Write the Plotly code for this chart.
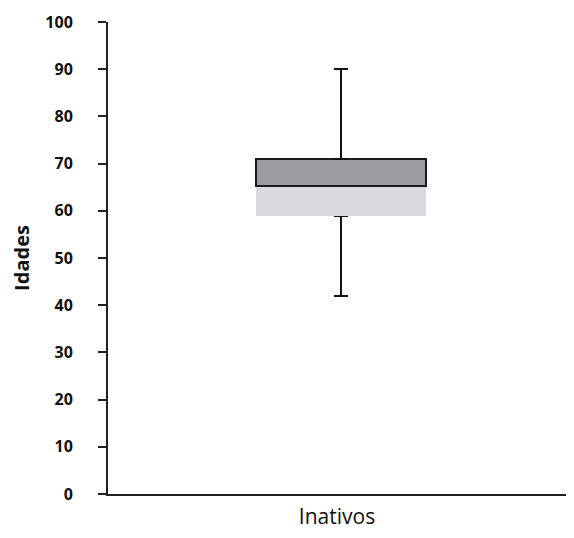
import plotly.graph_objects as go

categories = ["Inativos"]
minimo = [42]
q1 = [59]
mediana = [65.3]
q3 = [71]
maximo = [90]

lower_seg = [m - a for m, a in zip(mediana, q1)]
upper_seg = [b - m for b, m in zip(q3, mediana)]
err_low = [a - mn for a, mn in zip(q1, minimo)]
err_high = [mx - b for mx, b in zip(maximo, q3)]

BAR_W = 0.365

fig = go.Figure()
fig.add_trace(go.Bar(x=categories, y=q1, width=BAR_W,
                     marker=dict(color="rgba(0,0,0,0)", line=dict(width=0)),
                     error_y=dict(type="data", symmetric=False, array=[0], arrayminus=err_low,
                                  color="#111111", thickness=2, width=7),
                     showlegend=False, hoverinfo="skip"))
fig.add_trace(go.Bar(x=categories, y=lower_seg, width=BAR_W,
                     marker=dict(color="#dcdae0", line=dict(width=0)),
                     showlegend=False))
fig.add_trace(go.Bar(x=categories, y=upper_seg, width=BAR_W,
                     marker=dict(color="#9c99a0", line=dict(color="#1a1a1a", width=2)),
                     error_y=dict(type="data", symmetric=False, array=err_high, arrayminus=[0],
                                  color="#111111", thickness=2, width=7),
                     showlegend=False))

# page body has an 8px default margin: size the figure so it fits the 574x538 window
fig.update_layout(
    barmode="stack",
    width=558, height=522,
    margin=dict(l=100, r=0, t=14, b=36),
    plot_bgcolor="white", paper_bgcolor="white",
    font=dict(family="Open Sans, Liberation Sans, sans-serif", color="#111111"),
    xaxis=dict(showticklabels=False, showline=True, linecolor="#222222", linewidth=2,
               ticks="", showgrid=False, range=[-0.5, 0.4828], automargin=False,
               title=dict(text="Inativos", font=dict(size=21), standoff=19)),
    yaxis=dict(range=[0, 100], dtick=10, showline=True, linecolor="#222222", linewidth=2,
               ticks="outside", ticklen=8, tickcolor="#222222", tickwidth=1.5,
               showgrid=False, zeroline=False, automargin=False,
               tickfont=dict(size=16, weight="bold"), ticklabelstandoff=22,
               title=dict(text="Idades", font=dict(size=20, weight="bold"), standoff=13)),
)

fig.write_html("out.html")
